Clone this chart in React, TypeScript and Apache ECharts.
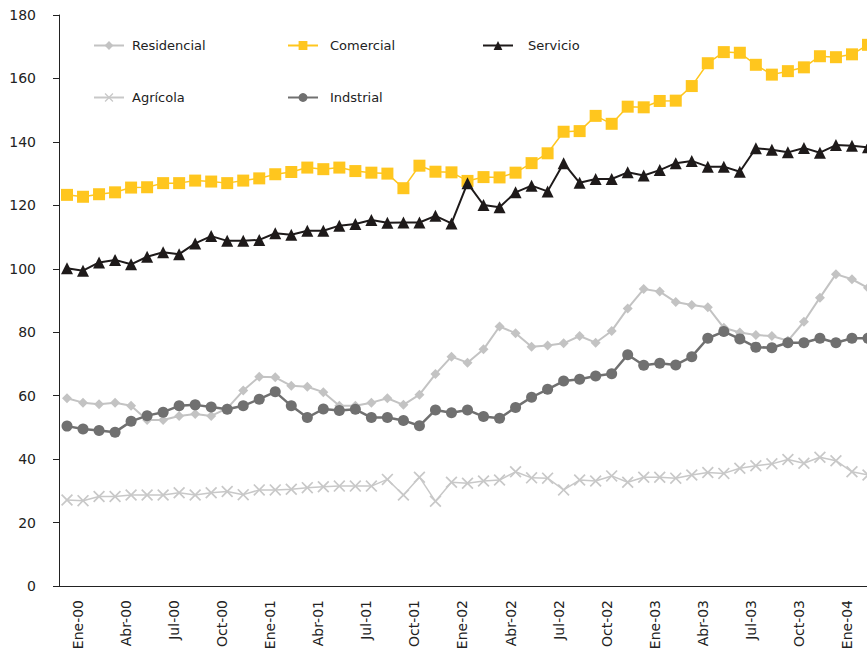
import React, { useEffect, useRef } from "react";
import * as echarts from "echarts";

const categories = [
  "Ene-00","Feb-00","Mar-00","Abr-00","May-00","Jun-00","Jul-00","Ago-00","Sep-00","Oct-00","Nov-00","Dic-00",
  "Ene-01","Feb-01","Mar-01","Abr-01","May-01","Jun-01","Jul-01","Ago-01","Sep-01","Oct-01","Nov-01","Dic-01",
  "Ene-02","Feb-02","Mar-02","Abr-02","May-02","Jun-02","Jul-02","Ago-02","Sep-02","Oct-02","Nov-02","Dic-02",
  "Ene-03","Feb-03","Mar-03","Abr-03","May-03","Jun-03","Jul-03","Ago-03","Sep-03","Oct-03","Nov-03","Dic-03",
  "Ene-04","Feb-04","Mar-04",
];

const residencial = [
  59.2, 57.8, 57.3, 57.8, 56.8, 52.3, 52.3, 53.6, 54.2, 53.6, 56.0, 61.6,
  66.0, 65.8, 63.1, 62.8, 61.1, 56.8, 56.8, 57.8, 59.2, 57.1, 60.3, 66.8,
  72.3, 70.4, 74.6, 81.8, 79.7, 75.4, 75.8, 76.5, 78.8, 76.7, 80.4, 87.5,
  93.6, 92.8, 89.5, 88.6, 87.9, 81.4, 79.9, 79.1, 78.8, 77.3, 83.3, 90.9,
  98.3, 96.7, 94.0,
];

const comercial = [
  123.3, 122.7, 123.5, 124.1, 125.6, 125.7, 127.0, 127.0, 127.8, 127.5, 127.0, 127.8,
  128.5, 129.8, 130.5, 131.9, 131.4, 131.9, 130.8, 130.3, 130.0, 125.4, 132.5, 130.6,
  130.4, 127.7, 128.9, 128.8, 130.3, 133.3, 136.4, 143.2, 143.4, 148.2, 145.7, 151.1,
  150.9, 152.9, 153.0, 157.6, 164.8, 168.3, 168.1, 164.3, 161.2, 162.3, 163.5, 167.0,
  166.7, 167.6, 170.6,
];

const servicio = [
  100.2, 99.4, 102.0, 102.8, 101.4, 103.8, 105.2, 104.6, 108.0, 110.3, 108.8, 108.8,
  109.1, 111.2, 110.7, 112.0, 112.0, 113.6, 114.1, 115.4, 114.5, 114.6, 114.6, 116.7,
  114.3, 127.0, 120.1, 119.4, 124.1, 126.2, 124.4, 133.3, 127.1, 128.3, 128.3, 130.4,
  129.4, 131.1, 133.3, 134.0, 132.2, 132.2, 130.6, 138.0, 137.5, 136.7, 138.1, 136.6,
  139.0, 138.8, 138.3,
];

const agricola = [
  27.1, 26.9, 28.2, 28.2, 28.7, 28.7, 28.7, 29.4, 28.7, 29.4, 29.8, 28.8,
  30.3, 30.3, 30.5, 31.0, 31.3, 31.5, 31.5, 31.5, 33.6, 28.7, 34.3, 26.7,
  32.7, 32.4, 33.1, 33.4, 36.0, 34.1, 34.0, 30.3, 33.4, 33.1, 34.7, 32.7,
  34.3, 34.3, 34.0, 35.0, 35.8, 35.5, 37.1, 37.9, 38.5, 39.9, 38.7, 40.6,
  39.5, 36.0, 35.0,
];

const indstrial = [
  50.4, 49.5, 49.0, 48.5, 51.9, 53.7, 54.8, 56.8, 57.1, 56.4, 55.7, 56.8,
  58.9, 61.2, 56.8, 53.1, 55.8, 55.3, 55.7, 53.1, 53.1, 52.2, 50.5, 55.5,
  54.6, 55.5, 53.4, 52.9, 56.3, 59.5, 62.0, 64.6, 65.2, 66.2, 66.9, 72.9,
  69.6, 70.2, 69.7, 72.3, 78.1, 80.2, 77.9, 75.3, 75.1, 76.7, 76.7, 78.1,
  76.7, 78.1, 78.1,
];

const FONT = "DejaVu Sans";
const AXIS = "#222222";
const X_SYMBOL =
  "path://M0,1 L1,0 L5,4 L9,0 L10,1 L6,5 L10,9 L9,10 L5,6 L1,10 L0,9 L4,5 Z";

export default function App() {
  const ref = useRef<HTMLDivElement>(null);

  useEffect(() => {
    if (!ref.current) return;
    const chart = echarts.init(ref.current, undefined, { renderer: "svg" });

    const legendBase = (name: string, left: number, top: number, pad: number) => ({
      data: [name],
      left,
      top,
      padding: 0,
      orient: "horizontal",
      itemWidth: 30,
      itemHeight: 11,
      selectedMode: false,
      textStyle: {
        fontFamily: FONT,
        fontSize: 13,
        color: "#222",
        padding: [0, 0, 0, pad],
      },
    });

    const common = {
      type: "line",
      showAllSymbol: true,
      emphasis: { disabled: true },
    };

    chart.setOption({
      animation: false,
      backgroundColor: "#ffffff",
      grid: { left: 59, right: 24, top: 15, bottom: 70, containLabel: false },
      legend: [
        legendBase("Residencial", 93, 39, 3),
        legendBase("Comercial", 287, 39, 7),
        legendBase("Servicio", 482, 39, 10),
        legendBase("Agrícola", 93, 91, 3),
        legendBase("Indstrial", 287, 91, 7),
      ],
      xAxis: {
        type: "category",
        data: categories,
        boundaryGap: true,
        axisLine: { lineStyle: { color: AXIS, width: 1 } },
        axisTick: { interval: 2, length: 7, lineStyle: { color: AXIS } },
        axisLabel: {
          interval: 2,
          rotate: 90,
          margin: 14,
          verticalAlign: "top",
          lineHeight: 22,
          fontFamily: FONT,
          fontSize: 14,
          color: "#222",
        },
        splitLine: { show: false },
      },
      yAxis: {
        type: "value",
        min: 0,
        max: 180,
        interval: 20,
        axisLine: { show: true, lineStyle: { color: AXIS, width: 1 } },
        axisTick: { show: true, length: 6, lineStyle: { color: AXIS } },
        axisLabel: { margin: 23, fontFamily: FONT, fontSize: 14, color: "#222" },
        splitLine: { show: false },
      },
      series: [
        {
          ...common,
          name: "Residencial",
          data: residencial,
          symbol: "diamond",
          symbolSize: 10,
          lineStyle: { color: "#c3c3c3", width: 2 },
          itemStyle: { color: "#c3c3c3" },
        },
        {
          ...common,
          name: "Comercial",
          data: comercial,
          symbol: "rect",
          symbolSize: 12,
          lineStyle: { color: "#ffc61e", width: 1.5 },
          itemStyle: { color: "#ffc61e" },
        },
        {
          ...common,
          name: "Servicio",
          data: servicio,
          symbol: "triangle",
          symbolSize: 12,
          lineStyle: { color: "#1e1a1a", width: 2 },
          itemStyle: { color: "#1e1a1a" },
        },
        {
          ...common,
          name: "Agrícola",
          data: agricola,
          symbol: X_SYMBOL,
          symbolSize: 12,
          lineStyle: { color: "#c8c8c8", width: 1.5 },
          itemStyle: { color: "#c8c8c8" },
        },
        {
          ...common,
          name: "Indstrial",
          data: indstrial,
          symbol: "circle",
          symbolSize: 11,
          lineStyle: { color: "#707070", width: 2.5 },
          itemStyle: { color: "#707070" },
        },
      ],
    });

    return () => chart.dispose();
  }, []);

  return (
    <div
      style={{
        position: "fixed",
        left: 0,
        top: 0,
        width: 867,
        height: 656,
        overflow: "hidden",
        background: "#ffffff",
      }}
    >
      <div ref={ref} style={{ width: 900, height: 656 }} />
    </div>
  );
}
